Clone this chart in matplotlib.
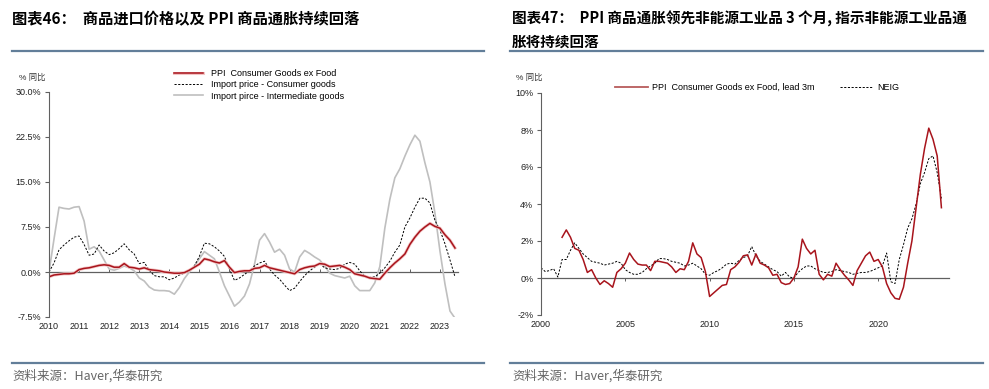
import matplotlib
matplotlib.use('Agg')
import matplotlib.pyplot as plt
import matplotlib.patheffects as pe
from matplotlib.lines import Line2D
import numpy as np

plt.rcParams['font.family'] = ['Liberation Sans', 'Noto Sans CJK SC', 'DejaVu Sans']

## Left chart data: every 2 months, Jan 2010 - Jul 2023 (% yoy)
left_start = 2010.0
ppi_cons_ex_food = [-0.8, -0.5, -0.4, -0.3, -0.3, -0.2,
                    0.4, 0.6, 0.7, 0.9, 1.1, 1.2,
                    1.1, 0.8, 0.8, 1.4, 0.8, 0.7,
                    0.5, 0.7, 0.4, 0.3, 0.2, 0.0,
                    -0.1, -0.2, -0.2, -0.1, 0.3, 0.8,
                    1.3, 2.2, 2.0, 1.7, 1.5, 1.9,
                    0.8, -0.1, 0.1, 0.2, 0.2, 0.6,
                    0.7, 1.1, 0.7, 0.5, 0.3, 0.1,
                    -0.1, -0.3, 0.4, 0.7, 0.9, 1.0,
                    1.4, 1.3, 0.9, 1.0, 1.1, 0.8,
                    0.4, -0.3, -0.5, -0.7, -1.0, -1.1,
                    -1.2, -0.2, 0.7, 1.5, 2.2, 3.0,
                    4.6, 5.8, 6.8, 7.5, 8.1, 7.6,
                    7.3, 6.2, 5.3, 4.0]
import_consumer = [0.0, 1.5, 3.7, 4.5, 5.2, 5.8,
                   6.0, 4.6, 2.8, 3.0, 4.5, 3.5,
                   2.9, 3.2, 3.9, 4.7, 3.7, 3.0,
                   1.4, 1.6, 0.3, -0.6, -0.8, -0.8,
                   -1.3, -1.0, -0.5, -0.2, 0.2, 1.0,
                   2.6, 4.8, 4.7, 4.2, 3.5, 2.6,
                   0.5, -1.4, -1.0, -0.4, 0.2, 1.0,
                   1.5, 1.8, 0.5, -0.5, -1.2, -2.2,
                   -3.1, -2.7, -1.6, -0.6, 0.2, 0.8,
                   1.4, 0.7, 0.5, 0.4, 0.6, 1.3,
                   1.6, 1.3, 0.2, -0.7, -0.9, -0.8,
                   -0.2, 0.7, 1.8, 3.3, 4.5, 7.5,
                   9.0, 10.8, 12.3, 12.3, 11.5, 8.6,
                   7.0, 4.7, 2.0, -0.8]
import_intermediate = [0.0, 5.5, 10.8, 10.6, 10.5, 10.8,
                       10.9, 8.5, 3.8, 4.2, 3.5, 2.0,
                       0.5, 0.3, 0.6, 1.0, 0.7, 0.2,
                       -1.0, -1.5, -2.5, -3.0, -3.1, -3.1,
                       -3.2, -3.7, -2.6, -1.1, 0.0, 1.0,
                       2.2, 3.4, 2.8, 2.2, 0.0, -2.3,
                       -4.0, -5.7, -5.0, -4.0, -2.0, 1.3,
                       5.3, 6.4, 5.0, 3.3, 3.8, 2.8,
                       0.5, 0.0, 2.5, 3.6, 3.1, 2.5,
                       2.0, 1.0, -0.2, -0.6, -0.8, -1.0,
                       -0.7, -2.3, -3.1, -3.1, -3.1, -1.8,
                       0.9, 7.3, 12.1, 15.7, 17.2, 19.3,
                       21.2, 22.8, 21.8, 18.2, 15.0, 9.8,
                       3.5, -2.0, -6.5, -7.7]
left_years = list(range(2010, 2024))
left_yticks = [-7.5, 0.0, 7.5, 15.0, 22.5, 30.0]
left_labels = ['PPI  Consumer Goods ex Food', 'Import price - Consumer goods',
               'Import pirce - Intermediate goods']

## Right chart data: quarterly (% yoy)
neig_start = 2000.0
neig = [0.55, 0.35, 0.4, 0.5, 0.05, 1.0, 1.0, 1.5,
        1.9, 1.6, 1.3, 1.1, 0.9, 0.85, 0.8, 0.7,
        0.75, 0.8, 0.9, 0.8, 0.45, 0.3, 0.2, 0.2,
        0.3, 0.5, 0.65, 0.8, 1.05, 1.05, 1.0, 0.9,
        0.85, 0.8, 0.65, 0.7, 0.8, 0.65, 0.5, 0.2,
        0.15, 0.3, 0.4, 0.55, 0.75, 0.8, 0.75, 0.95,
        1.1, 1.2, 1.7, 1.2, 0.9, 0.75, 0.6, 0.45,
        0.35, 0.1, 0.3, 0.05, 0.0, 0.3, 0.5, 0.65,
        0.65, 0.5, 0.4, 0.3, 0.3, 0.35, 0.45, 0.4,
        0.35, 0.3, 0.2, 0.25, 0.3, 0.3, 0.35, 0.45,
        0.55, 0.65, 1.35, -0.2, -0.3, 1.0, 1.8, 2.7,
        3.2, 4.0, 5.1, 5.7, 6.45, 6.6, 5.7, 4.3]
ppi_lead_start = 2001.25
ppi_lead3m = [2.2, 2.6, 2.2,
              1.6, 1.5, 1.0, 0.3, 0.45, 0.0, -0.35, -0.15,
              -0.3, -0.5, 0.3, 0.5, 0.8, 1.35, 1.0, 0.75,
              0.7, 0.7, 0.4, 0.9, 0.9, 0.85, 0.8, 0.6,
              0.3, 0.5, 0.45, 0.9, 1.9, 1.3, 1.1, 0.35,
              -1.0, -0.8, -0.6, -0.4, -0.35, 0.45, 0.6, 0.85,
              1.2, 1.25, 0.7, 1.3, 0.8, 0.7, 0.55, 0.15,
              0.2, -0.25, -0.35, -0.3, 0.0, 0.6, 2.1, 1.6,
              1.3, 1.5, 0.2, -0.1, 0.2, 0.1, 0.8, 0.45,
              0.15, -0.1, -0.4, 0.4, 0.8, 1.2, 1.4, 0.9,
              1.0, 0.6, -0.3, -0.8, -1.1, -1.15, -0.5, 0.8,
              2.0, 3.8, 5.6, 7.0, 8.1, 7.5, 6.6, 3.8]
right_years = [2000, 2005, 2010, 2015, 2020]
right_yticks = [-2, 0, 2, 4, 6, 8, 10]
right_labels = ['PPI  Consumer Goods ex Food, lead 3m', 'NEIG']

RED = '#A8141C'
GRAY = '#BFBFBF'
RULE = '#627E99'
AXC = '#606060'

fig = plt.figure(figsize=(9.89, 3.89), dpi=100)
W, H = 989.0, 389.0

def fx(px):
    return px / W

def fy(py):
    return 1 - py / H

def style_axes(ax, zero_pos, ticks, direction):
    for s in ['top', 'right', 'bottom']:
        ax.spines[s].set_visible(False)
    ax.spines['left'].set_color(AXC)
    ax.spines['left'].set_linewidth(0.8)
    ax.tick_params(axis='y', length=3, width=0.8, color=AXC, labelsize=6.5, pad=2.5, labelcolor='#222222')
    ax.tick_params(axis='x', length=0, labelsize=6.5, pad=3.5, labelcolor='#222222')
    sec = ax.secondary_xaxis(zero_pos)
    sec.set_xticks(ticks)
    sec.tick_params(axis='x', direction=direction, length=2.5, width=0.7, color=AXC, labelbottom=False)
    sec.spines['bottom'].set_color(AXC)
    sec.spines['bottom'].set_linewidth(0.9)

## Left chart
ax1 = fig.add_axes([fx(49), fy(317), fx(458 - 49), (317 - 92) / H])
t1 = left_start + np.arange(len(ppi_cons_ex_food)) / 6.0
ax1.plot(t1, import_intermediate, color=GRAY, lw=1.2, label=left_labels[2])
ax1.plot(t1, import_consumer, color='black', lw=0.7, ls=(0, (2.2, 1.6)), label=left_labels[1])
ax1.plot(t1, ppi_cons_ex_food, color=RED, lw=1.1, label=left_labels[0],
         path_effects=[pe.Stroke(linewidth=2.2, foreground='#F3C4C4'), pe.Normal()])
ax1.set_xlim(2010, 2023.6)
ax1.set_ylim(-7.5, 30)
ax1.set_yticks(left_yticks)
ax1.set_yticklabels(['%.1f%%' % v for v in left_yticks])
ax1.set_xticks(left_years)
ax1.set_xticklabels([str(y) for y in left_years])
style_axes(ax1, 7.5 / 37.5, left_years, 'in')
h, l = ax1.get_legend_handles_labels()
ax1.legend(h[::-1], l[::-1], loc='upper left', bbox_to_anchor=(fx(174), fy(69)),
           bbox_transform=fig.transFigure, frameon=False, fontsize=6.5,
           handlelength=3.2, handletextpad=0.9, labelspacing=0.25,
           borderpad=0, borderaxespad=0)

## Right chart
ax2 = fig.add_axes([fx(541), fy(315), fx(949 - 541), (315 - 93) / H])
t2 = neig_start + np.arange(len(neig)) / 4.0
t3 = ppi_lead_start + np.arange(len(ppi_lead3m)) / 4.0
ax2.plot(t2, neig, color='black', lw=0.7, ls=(0, (2.2, 1.6)))
ax2.plot(t3, ppi_lead3m, color=RED, lw=1.1)
ax2.set_xlim(2000, 2024.2)
ax2.set_ylim(-2, 10)
ax2.set_yticks(right_yticks)
ax2.set_yticklabels(['%d%%' % v for v in right_yticks])
ax2.set_xticks(right_years)
ax2.set_xticklabels([str(y) for y in right_years])
style_axes(ax2, 2 / 12.0, right_years, 'out')
handles2 = [Line2D([], [], color='#B85C5C', lw=1.3),
            Line2D([], [], color='black', lw=0.7, ls=(0, (2.2, 1.6)))]
ax2.legend(handles2, right_labels, loc='upper left', bbox_to_anchor=(fx(615), fy(83)),
           bbox_transform=fig.transFigure, frameon=False, fontsize=6.5, ncol=2,
           handlelength=3.6, handletextpad=0.45, columnspacing=2.9,
           borderpad=0, borderaxespad=0)

## Titles, unit labels, rules and sources
title_font = ['Noto Sans CJK SC', 'DejaVu Sans']
fig.text(fx(12), fy(19), '图表46：  商品进口价格以及 PPI 商品通胀持续回落',
         family=title_font, fontsize=11, fontweight='bold', va='center', ha='left')
fig.text(fx(512), fy(19), '图表47：  PPI 商品通胀领先非能源工业品 3 个月, 指示非能源工业品通',
         family=title_font, fontsize=10.5, fontweight='bold', va='center', ha='left')
fig.text(fx(512), fy(41.5), '胀将持续回落',
         family=title_font, fontsize=10.5, fontweight='bold', va='center', ha='left')

fig.text(fx(19), fy(78), '% 同比', fontsize=6, color='#333333', va='center', ha='left')
fig.text(fx(516), fy(78), '% 同比', fontsize=6, color='#333333', va='center', ha='left')

for x0, x1 in [(12, 484), (510, 983)]:
    for yy in [51, 363]:
        fig.add_artist(Line2D([fx(x0), fx(x1)], [fy(yy), fy(yy)], color=RULE, lw=1.6,
                              transform=fig.transFigure))

for x0 in [12, 512]:
    fig.text(fx(x0), fy(376), '资料来源：Haver,华泰研究', family=title_font,
             fontsize=9, color='#666666', va='center', ha='left')

fig.savefig('out.png', dpi=100)
